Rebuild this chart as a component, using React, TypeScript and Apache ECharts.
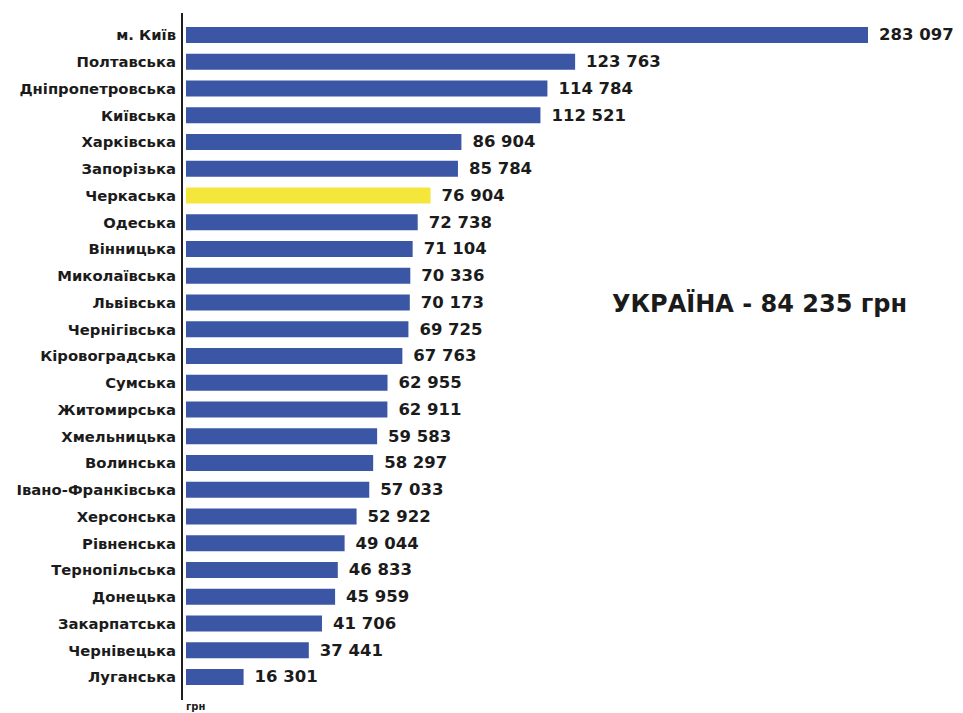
import React, { useEffect, useRef } from "react";
import * as echarts from "echarts";

const regions = [
  "м. Київ", "Полтавська", "Дніпропетровська", "Київська", "Харківська",
  "Запорізька", "Черкаська", "Одеська", "Вінницька", "Миколаївська",
  "Львівська", "Чернігівська", "Кіровоградська", "Сумська", "Житомирська",
  "Хмельницька", "Волинська", "Івано-Франківська", "Херсонська", "Рівненська",
  "Тернопільська", "Донецька", "Закарпатська", "Чернівецька", "Луганська",
];
const values = [
  283097, 123763, 114784, 112521, 86904,
  85784, 76904, 72738, 71104, 70336,
  70173, 69725, 67763, 62955, 62911,
  59583, 58297, 57033, 52922, 49044,
  46833, 45959, 41706, 37441, 16301,
];
const highlighted = "Черкаська";
const titleText = "УКРАЇНА - 84 235 грн";
const unitText = "грн";
const axisMin = -2370;
const axisMax = 218700;

const BLUE = "#3b56a5";
const YELLOW = "#f4e63b";
const INK = "#1b1b1b";
const FONT = '"DejaVu Sans", sans-serif';

const fmt = (v: number) => String(v).replace(/\B(?=(\d{3})+(?!\d))/g, " ");

export default function App() {
  const ref = useRef<HTMLDivElement>(null);
  useEffect(() => {
    if (!ref.current) return;
    const chart = echarts.init(ref.current, null, { renderer: "svg" });
    chart.setOption({
      animation: false,
      backgroundColor: "#ffffff",
      grid: { left: 186, top: 21.6, width: 682, height: 668.75, containLabel: false },
      xAxis: {
        type: "value",
        min: axisMin,
        max: axisMax,
        show: false,
      },
      yAxis: {
        type: "category",
        data: regions,
        inverse: true,
        axisLine: { show: false },
        axisTick: { show: false },
        splitLine: { show: false },
        axisLabel: {
          margin: 10,
          color: INK,
          fontFamily: FONT,
          fontWeight: "bold",
          fontSize: 14.8,
        },
      },
      series: [
        {
          type: "custom",
          data: values.map((v, i) => [v, i]),
          encode: { x: 0, y: 1 },
          renderItem: (params: any, api: any) => {
            const v = api.value(0);
            const idx = api.value(1);
            const start = api.coord([axisMin, idx]);
            const end = api.coord([v, idx]);
            const h = 16;
            const cs = params.coordSys;
            const rect = echarts.graphic.clipRectByRect(
              { x: start[0], y: start[1] - h / 2, width: end[0] - start[0], height: h },
              { x: cs.x, y: cs.y, width: cs.width, height: cs.height }
            );
            if (!rect) return null;
            const color = regions[idx] === highlighted ? YELLOW : BLUE;
            return {
              type: "group",
              children: [
                { type: "rect", shape: rect, style: { fill: color } },
                {
                  type: "text",
                  x: rect.x + rect.width + 11,
                  y: start[1],
                  style: {
                    text: fmt(v),
                    fill: INK,
                    fontFamily: FONT,
                    fontWeight: "bold",
                    fontSize: 16.5,
                    verticalAlign: "middle",
                    align: "left",
                  },
                },
              ],
            };
          },
        },
      ],
      graphic: [
        {
          type: "line",
          shape: { x1: 182, y1: 13, x2: 182, y2: 700 },
          style: { stroke: "#1e1e1e", lineWidth: 2 },
        },
        {
          type: "text",
          x: 186,
          y: 706,
          style: {
            text: unitText,
            fill: INK,
            fontFamily: FONT,
            fontWeight: "bold",
            fontSize: 10,
            verticalAlign: "middle",
          },
        },
        {
          type: "text",
          x: 612,
          y: 304,
          style: {
            text: titleText,
            fill: INK,
            fontFamily: FONT,
            fontWeight: "bold",
            fontSize: 24,
            verticalAlign: "middle",
          },
        },
      ],
    });
    return () => chart.dispose();
  }, []);
  return (
    <div
      ref={ref}
      style={{ position: "fixed", left: 0, top: 0, width: 963, height: 713 }}
    />
  );
}
